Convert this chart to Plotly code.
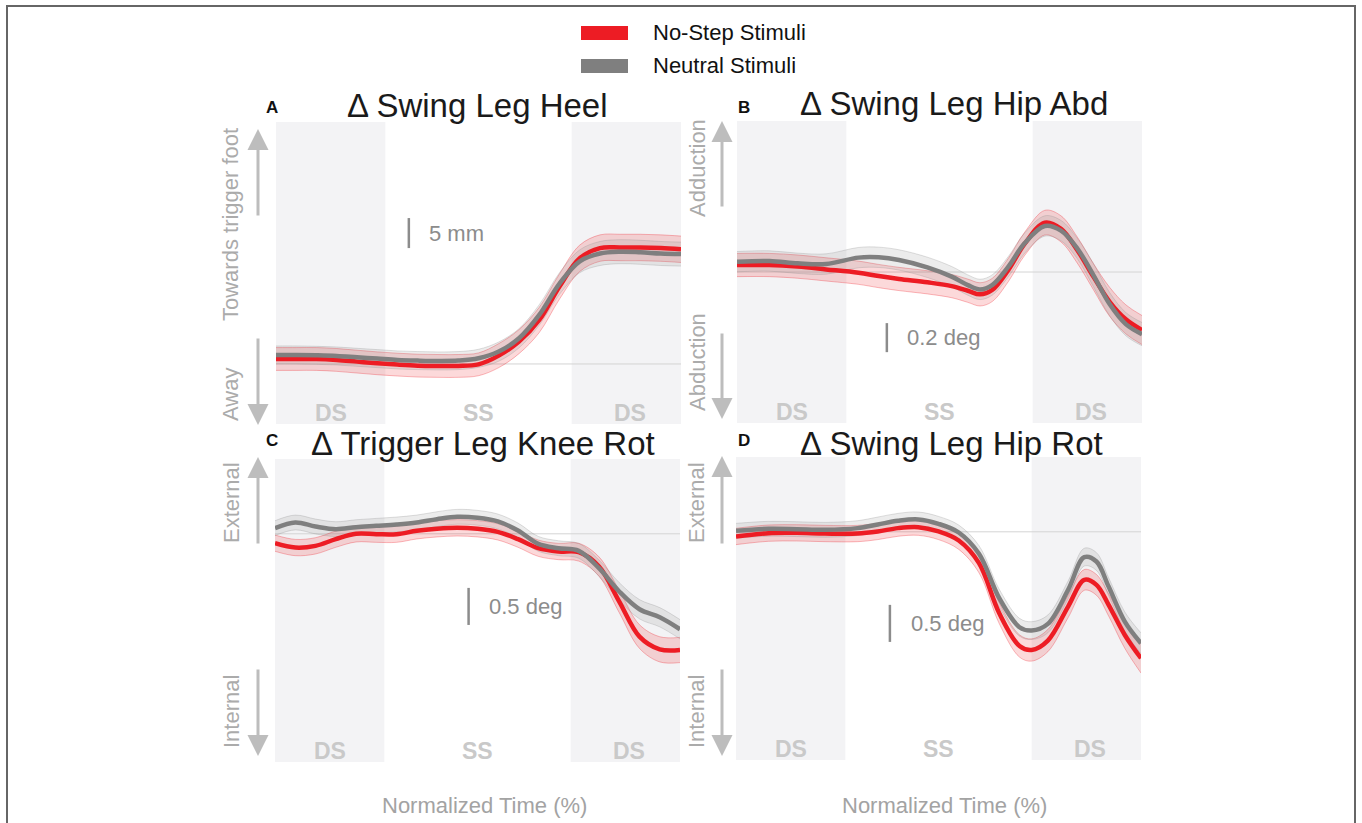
import plotly.graph_objects as go

W, H = 1362, 823

# ---------------- data ----------------
phase_bounds = [27, 73]               # % of normalized time: DS | SS | DS
phase_labels = ["DS", "SS", "DS"]
phase_centers = [13.5, 50, 87.5]

series_names = ["No-Step Stimuli", "Neutral Stimuli"]

# Panel A: swing leg heel (mm)
A_t = [0, 5, 10, 15, 20, 25, 30, 35, 40, 45, 50, 55, 60, 65, 70, 75, 80, 85, 90, 95, 100]
A_nostep = [0.83, 0.83, 0.83, 0.67, 0.39, 0.11, -0.11, -0.28, -0.33, -0.33, -0.06, 1.39, 3.72, 7.33, 12.9, 17.6, 19.3, 19.4, 19.4, 19.3, 19.1]
A_neutral = [1.5, 1.5, 1.44, 1.33, 1.11, 0.89, 0.67, 0.56, 0.5, 0.56, 0.94, 2.06, 4.28, 8.17, 13.4, 17.1, 18.4, 18.7, 18.6, 18.4, 18.3]
A_nostep_se = [1.9, 1.9, 1.9, 1.9, 1.9, 1.9, 1.9, 1.9, 1.9, 1.9, 1.9, 2.0, 2.0, 2.1, 2.1, 2.2, 2.2, 2.2, 2.2, 2.2, 2.2]
A_neutral_se = [1.5, 1.5, 1.5, 1.5, 1.5, 1.5, 1.5, 1.5, 1.5, 1.5, 1.5, 1.6, 1.6, 1.7, 1.8, 1.9, 2.0, 2.0, 2.0, 2.0, 2.0]

# Panel B: swing leg hip abduction (deg)
B_t = [0, 8, 15, 22, 30, 35, 40, 47, 53, 57, 60, 63, 67, 71, 76, 80, 84, 88, 92, 96, 100]
B_nostep = [0.048, 0.048, 0.037, 0.018, -0.005, -0.028, -0.048, -0.071, -0.097, -0.129, -0.154, -0.124, 0.014, 0.193, 0.34, 0.297, 0.152, -0.032, -0.205, -0.326, -0.4]
B_neutral = [0.071, 0.076, 0.06, 0.055, 0.099, 0.101, 0.083, 0.032, -0.032, -0.09, -0.12, -0.09, 0.037, 0.198, 0.317, 0.285, 0.163, -0.021, -0.221, -0.359, -0.428]
B_nostep_se = [0.08, 0.08, 0.08, 0.08, 0.08, 0.08, 0.08, 0.08, 0.08, 0.08, 0.08, 0.08, 0.08, 0.08, 0.085, 0.09, 0.09, 0.09, 0.1, 0.1, 0.1]
B_neutral_se = [0.07, 0.07, 0.07, 0.07, 0.07, 0.07, 0.07, 0.07, 0.07, 0.07, 0.07, 0.07, 0.07, 0.07, 0.07, 0.07, 0.07, 0.08, 0.08, 0.08, 0.08]

# Panel C: trigger leg knee rotation (deg)
C_t = [0, 5, 10, 15, 20, 25, 30, 35, 40, 45, 50, 55, 60, 65, 70, 75, 80, 85, 90, 95, 100]
C_nostep = [-0.126, -0.185, -0.162, -0.072, 0.0, -0.005, -0.005, 0.041, 0.068, 0.081, 0.068, 0.027, -0.072, -0.194, -0.239, -0.248, -0.441, -0.914, -1.387, -1.559, -1.568]
C_neutral = [0.077, 0.153, 0.099, 0.063, 0.09, 0.108, 0.126, 0.153, 0.198, 0.23, 0.216, 0.167, 0.045, -0.135, -0.194, -0.23, -0.464, -0.779, -1.018, -1.126, -1.288]
C_nostep_se = [0.11, 0.11, 0.11, 0.11, 0.11, 0.11, 0.11, 0.11, 0.11, 0.11, 0.11, 0.11, 0.11, 0.11, 0.11, 0.12, 0.13, 0.15, 0.16, 0.17, 0.17]
C_neutral_se = [0.1, 0.1, 0.1, 0.1, 0.1, 0.1, 0.1, 0.1, 0.1, 0.1, 0.1, 0.1, 0.1, 0.1, 0.1, 0.1, 0.11, 0.12, 0.13, 0.13, 0.13]

# Panel D: swing leg hip rotation (deg)
D_t = [0, 8, 15, 22, 30, 35, 40, 45, 50, 55, 60, 65, 70, 73, 77, 82, 86, 89, 92, 96, 100]
D_nostep = [-0.063, -0.018, -0.014, -0.023, -0.023, 0.005, 0.05, 0.063, 0.005, -0.117, -0.423, -1.099, -1.541, -1.595, -1.468, -1.009, -0.649, -0.716, -0.986, -1.392, -1.707]
D_neutral = [0.014, 0.041, 0.036, 0.027, 0.05, 0.099, 0.149, 0.167, 0.108, -0.009, -0.297, -0.896, -1.288, -1.333, -1.243, -0.784, -0.342, -0.401, -0.739, -1.212, -1.505]
D_nostep_se = [0.11, 0.11, 0.11, 0.11, 0.11, 0.11, 0.11, 0.11, 0.11, 0.12, 0.13, 0.14, 0.15, 0.15, 0.15, 0.15, 0.14, 0.14, 0.15, 0.18, 0.2]
D_neutral_se = [0.1, 0.1, 0.1, 0.1, 0.1, 0.1, 0.1, 0.1, 0.1, 0.1, 0.11, 0.12, 0.12, 0.12, 0.12, 0.12, 0.12, 0.12, 0.12, 0.13, 0.14]

panel_letters = ["A", "B", "C", "D"]
panel_titles = ["Δ Swing Leg Heel", "Δ Swing Leg Hip Abd", "Δ Trigger Leg Knee Rot", "Δ Swing Leg Hip Rot"]
up_labels = ["Towards trigger foot", "Adduction", "External", "External"]
down_labels = ["Away", "Abduction", "Internal", "Internal"]
y_ranges = [[-10.0, 40.3], [-1.04, 1.04], [-3.08, 1.01], [-3.08, 1.01]]
scale_lengths = [5, 0.2, 0.5, 0.5]
scale_texts = ["5 mm", "0.2 deg", "0.5 deg", "0.5 deg"]
scale_x = [32.8, 37.0, 47.8, 38.0]
scale_y0 = [19.3, -0.552, -1.23, -1.486]
x_title = "Normalized Time (%)"

panels = [
    (A_t, A_nostep, A_nostep_se, A_neutral, A_neutral_se),
    (B_t, B_nostep, B_nostep_se, B_neutral, B_neutral_se),
    (C_t, C_nostep, C_nostep_se, C_neutral, C_neutral_se),
    (D_t, D_nostep, D_nostep_se, D_neutral, D_neutral_se),
]

# ---------------- layout (pixel geometry) ----------------
boxes = [(276, 122, 681, 424), (737, 121, 1142, 423), (275, 459, 680, 762), (736, 457, 1141, 760)]
lab_x = [230, 697, 231, 696]
arrow_x = [258, 722, 258, 722]
up_lab_y = [225, 168, 503, 503]
down_lab_y = [395, 362, 712, 712]
up_arrow = [(129, 217), (121, 208), (457, 545), (456, 545)]
down_arrow = [(337, 425), (332, 419), (668, 756), (668, 756)]
letter_pos = [(272, 107), (744, 107), (272, 440), (744, 440)]
title_pos = [(477, 105), (954, 104), (483, 443), (951, 443)]
xtitle_pos = [(484, 805), (945, 805)]

RED = "#ed1c24"
GRAY = "#7f7f7f"
RED_BAND = "rgba(237,28,36,0.17)"
RED_EDGE = "rgba(237,28,36,0.30)"
GRAY_BAND = "rgba(140,140,140,0.17)"
GRAY_EDGE = "rgba(140,140,140,0.28)"
PHASE_FILL = "#f3f3f5"
FONT = "Liberation Sans, Arial, sans-serif"


def X(px):
    return px / W


def Y(py):
    return 1 - py / H


fig = go.Figure()
shapes = []
annotations = []

for i, (t, ns, ns_se, nu, nu_se) in enumerate(panels):
    k = "" if i == 0 else str(i + 1)
    xa, ya = "x" + k, "y" + k
    l, tp, r, b = boxes[i]
    fig.update_layout(**{
        "xaxis" + k: dict(domain=[X(l), X(r)], range=[0, 100], visible=False, anchor=ya, fixedrange=True),
        "yaxis" + k: dict(domain=[Y(b), Y(tp)], range=y_ranges[i], visible=False, anchor=xa, fixedrange=True),
    })

    for mean, se, band, edge in ((ns, ns_se, RED_BAND, RED_EDGE), (nu, nu_se, GRAY_BAND, GRAY_EDGE)):
        lo = [m - s for m, s in zip(mean, se)]
        hi = [m + s for m, s in zip(mean, se)]
        fig.add_trace(go.Scatter(x=t, y=lo, xaxis=xa, yaxis=ya, mode="lines",
                                 line=dict(color=edge, width=1, shape="spline", smoothing=1.0),
                                 showlegend=False, hoverinfo="skip"))
        fig.add_trace(go.Scatter(x=t, y=hi, xaxis=xa, yaxis=ya, mode="lines", fill="tonexty",
                                 fillcolor=band,
                                 line=dict(color=edge, width=1, shape="spline", smoothing=1.0),
                                 showlegend=False, hoverinfo="skip"))
    fig.add_trace(go.Scatter(x=t, y=ns, xaxis=xa, yaxis=ya, mode="lines", name=series_names[0],
                             line=dict(color=RED, width=4.5, shape="spline", smoothing=1.0),
                             showlegend=False))
    fig.add_trace(go.Scatter(x=t, y=nu, xaxis=xa, yaxis=ya, mode="lines", name=series_names[1],
                             line=dict(color=GRAY, width=4.5, shape="spline", smoothing=1.0),
                             showlegend=False))

    shapes.append(dict(type="rect", xref=xa, yref=ya + " domain", x0=0, x1=phase_bounds[0], y0=0, y1=1,
                       fillcolor=PHASE_FILL, line=dict(width=0), layer="below"))
    shapes.append(dict(type="rect", xref=xa, yref=ya + " domain", x0=phase_bounds[1], x1=100, y0=0, y1=1,
                       fillcolor=PHASE_FILL, line=dict(width=0), layer="below"))
    shapes.append(dict(type="line", xref=xa, yref=ya, x0=0, x1=100, y0=0, y1=0,
                       line=dict(color="#d4d4d4", width=1), layer="below"))
    shapes.append(dict(type="line", xref=xa, yref=ya, x0=scale_x[i], x1=scale_x[i],
                       y0=scale_y0[i], y1=scale_y0[i] + scale_lengths[i],
                       line=dict(color="#8c8c8c", width=2.5)))
    annotations.append(dict(xref=xa, yref=ya, x=scale_x[i] + 4.6, y=scale_y0[i] + scale_lengths[i] / 2,
                            text=scale_texts[i], showarrow=False, xanchor="left", yanchor="middle",
                            font=dict(family=FONT, size=22, color="#8c8c8c")))
    for lab, cx in zip(phase_labels, phase_centers):
        annotations.append(dict(xref=xa, yref=ya + " domain", x=cx, y=0.036, text="<b>%s</b>" % lab,
                                showarrow=False, xanchor="center", yanchor="middle",
                                font=dict(family=FONT, size=23, color="#c9c9c9")))
    annotations.append(dict(xref="paper", yref="paper", x=X(letter_pos[i][0]), y=Y(letter_pos[i][1]),
                            text="<b>%s</b>" % panel_letters[i], showarrow=False,
                            xanchor="center", yanchor="middle", font=dict(family=FONT, size=17, color="#111")))
    annotations.append(dict(xref="paper", yref="paper", x=X(title_pos[i][0]), y=Y(title_pos[i][1]),
                            text=panel_titles[i], showarrow=False, xanchor="center", yanchor="middle",
                            font=dict(family=FONT, size=33, color="#1a1a1a")))
    annotations.append(dict(xref="paper", yref="paper", x=X(lab_x[i]), y=Y(up_lab_y[i]), text=up_labels[i],
                            textangle=-90, showarrow=False, xanchor="center", yanchor="middle",
                            font=dict(family=FONT, size=22, color="#ababab")))
    annotations.append(dict(xref="paper", yref="paper", x=X(lab_x[i]), y=Y(down_lab_y[i]), text=down_labels[i],
                            textangle=-90, showarrow=False, xanchor="center", yanchor="middle",
                            font=dict(family=FONT, size=22, color="#ababab")))
    tip, tail = up_arrow[i]
    annotations.append(dict(xref="paper", yref="paper", x=X(arrow_x[i]), y=Y(tip), ax=0, ay=tail - tip,
                            axref="pixel", ayref="pixel", text="", showarrow=True, arrowhead=2,
                            arrowsize=1.4, arrowwidth=3, arrowcolor="#bdbdbd"))
    tail, tip = down_arrow[i]
    annotations.append(dict(xref="paper", yref="paper", x=X(arrow_x[i]), y=Y(tip), ax=0, ay=tail - tip,
                            axref="pixel", ayref="pixel", text="", showarrow=True, arrowhead=2,
                            arrowsize=1.4, arrowwidth=3, arrowcolor="#bdbdbd"))

for (cx, cy) in xtitle_pos:
    annotations.append(dict(xref="paper", yref="paper", x=X(cx), y=Y(cy), text=x_title, showarrow=False,
                            xanchor="center", yanchor="middle", font=dict(family=FONT, size=22, color="#a3a3a3")))

legend_colors = [RED, GRAY]
legend_y = [33, 66]
for name, col, ly in zip(series_names, legend_colors, legend_y):
    shapes.append(dict(type="rect", xref="paper", yref="paper", x0=X(581), x1=X(628), y0=Y(ly + 7), y1=Y(ly - 7),
                       fillcolor=col, line=dict(width=0)))
    annotations.append(dict(xref="paper", yref="paper", x=X(651), y=Y(ly), text=name, showarrow=False,
                            xanchor="left", yanchor="middle", font=dict(family=FONT, size=22, color="#111")))

shapes.append(dict(type="rect", xref="paper", yref="paper", x0=X(7), x1=X(1355), y0=Y(835), y1=Y(6),
                   line=dict(color="#666666", width=2), fillcolor="rgba(0,0,0,0)"))

fig.update_layout(width=W, height=H, margin=dict(l=0, r=0, t=0, b=0),
                  paper_bgcolor="white", plot_bgcolor="white", showlegend=False,
                  shapes=shapes, annotations=annotations, font=dict(family=FONT))

fig.write_html("out.html", config={"displayModeBar": False},
               post_script="document.body.style.margin='0';document.body.style.overflow='hidden';")
